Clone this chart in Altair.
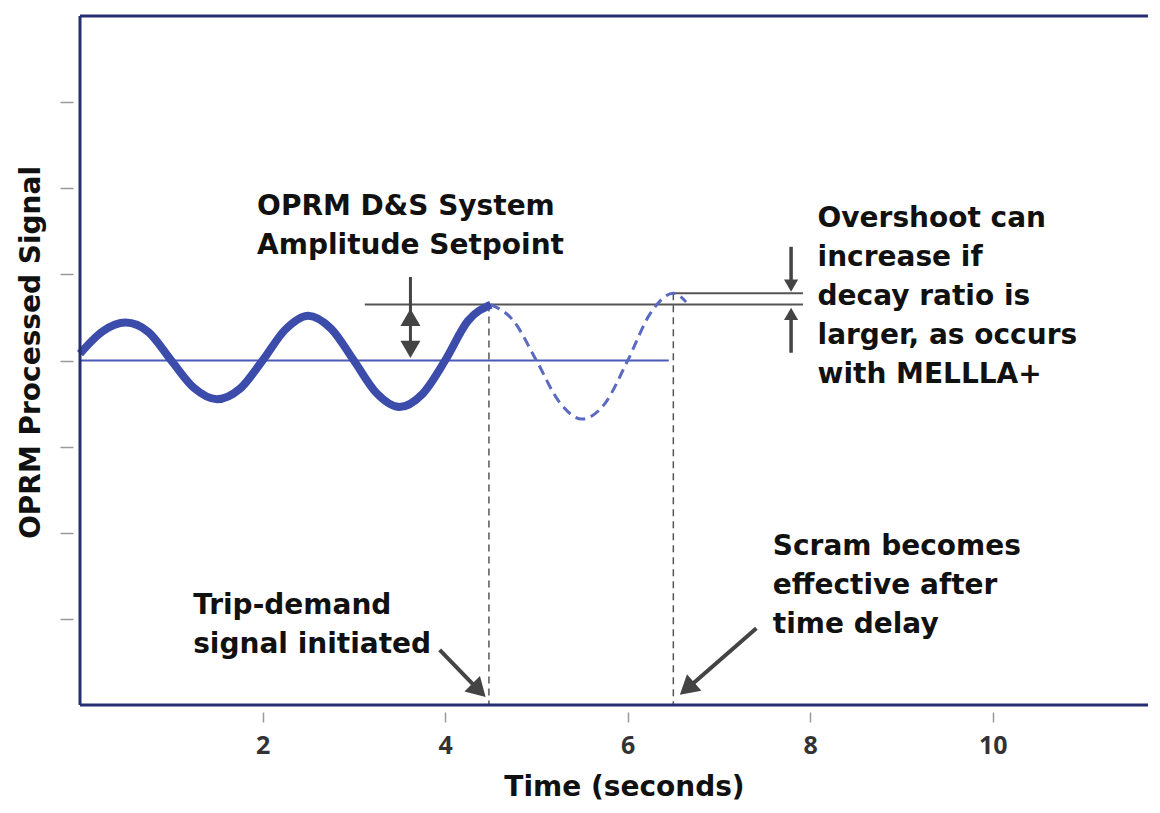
import altair as alt
import pandas as pd

# ---- data (x in seconds, y in signal units; 1 unit = 1 y-tick) ----
t_solid = [0.0, 0.25, 0.5, 0.75, 1.0, 1.25, 1.5, 1.75, 2.0, 2.25, 2.5, 2.75, 3.0, 3.25, 3.5, 3.75, 4.0, 4.25, 4.5]
v_solid = [0.08, 0.34, 0.44, 0.33, 0.0, -0.32, -0.45, -0.33, 0.0, 0.36, 0.52, 0.37, 0.0, -0.38, -0.54, -0.39, 0.0, 0.46, 0.65]
t_dash = [4.5, 4.75, 5.0, 5.25, 5.5, 5.75, 6.0, 6.25, 6.5, 6.64]
v_dash = [0.65, 0.46, 0.0, -0.48, -0.68, -0.50, 0.0, 0.55, 0.78, 0.68]

x_ticks = [2, 4, 6, 8, 10]
y_ticks = [-3, -2, -1, 0, 1, 2, 3]
x_max = 11.7
y_min, y_max = -4, 4

baseline_end = 6.45
trip_time, scram_time = 4.48, 6.5
setpoint, overshoot = 0.65, 0.78
setpoint_x = [3.12, 7.92]
overshoot_x = [6.48, 7.92]

# arrow stems: x, y, x2, y2, width
stem_x = [3.62, 7.79, 7.79, 3.94, 7.41]
stem_y = [0.97, 1.32, 0.09, -3.36, -3.11]
stem_x2 = [3.62, 7.79, 7.79, 4.37, 6.65]
stem_y2 = [0.13, 0.87, 0.54, -3.83, -3.81]
stem_w = [3, 3.5, 3.5, 4, 4]
# arrow heads: x, y, angle, size
head_x = [3.62, 3.62, 7.79, 7.79, 4.37, 6.65]
head_y = [0.50, 0.13, 0.87, 0.54, -3.83, -3.81]
head_ang = [0, 180, 180, 0, 135, 229]
head_size = [400, 400, 200, 200, 480, 480]

# annotations
note_x = [1.94, 8.08, 1.24, 7.59]
note_y = [1.69, 1.554, -2.94, -2.26]
note_text = [
    "OPRM D&S System\nAmplitude Setpoint",
    "Overshoot can\nincrease if\ndecay ratio is\nlarger, as occurs\nwith MELLLA+",
    "Trip-demand\nsignal initiated",
    "Scram becomes\neffective after\ntime delay",
]

FONT = "DejaVu Sans"
FS = 28
INK = "#3b4cab"
GREY = "#444444"
FRAME = "#262f72"

solid = pd.DataFrame({"t": t_solid, "v": v_solid})
dashed = pd.DataFrame({"t": t_dash, "v": v_dash})
frame = pd.DataFrame({"x": [0, 0, 0], "x2": [0, x_max, x_max],
                      "y": [y_min, y_max, y_min], "y2": [y_max, y_max, y_min]})
base = pd.DataFrame({"x": [0], "x2": [baseline_end], "y": [0], "y2": [0]})
vlines = pd.DataFrame({"x": [trip_time, scram_time], "x2": [trip_time, scram_time],
                       "y": [setpoint, overshoot], "y2": [y_min, y_min]})
hlines = pd.DataFrame({"x": [setpoint_x[0], overshoot_x[0]], "x2": [setpoint_x[1], overshoot_x[1]],
                       "y": [setpoint, overshoot], "y2": [setpoint, overshoot]})
stems = pd.DataFrame({"x": stem_x, "y": stem_y, "x2": stem_x2, "y2": stem_y2, "w": stem_w})
heads = pd.DataFrame({"x": head_x, "y": head_y, "ang": head_ang, "s": head_size})
notes = pd.DataFrame({"x": note_x, "y": note_y, "label": note_text})

xs = alt.Scale(domain=[0, x_max], nice=False, zero=False)
ys = alt.Scale(domain=[y_min, y_max], nice=False, zero=False)

xaxis = alt.Axis(values=x_ticks, format="d", domain=False, grid=False,
                 tickSize=10, tickColor="#9a9a9a", tickWidth=1.5, offset=7,
                 labelFont="Open Sans", labelFontWeight="bold", labelFontSize=25,
                 labelColor="#333333", labelPadding=11,
                 title="Time (seconds)", titleFont=FONT, titleFontSize=FS,
                 titleFontWeight="bold", titleColor="#111111", titlePadding=15,
                 titleX=544)
yaxis = alt.Axis(values=y_ticks, domain=False, grid=False, labels=False,
                 tickSize=13, tickColor="#9a9a9a", tickWidth=1.5, offset=7,
                 title="OPRM Processed Signal", titleFont=FONT, titleFontSize=FS,
                 titleFontWeight="bold", titleColor="#111111", titlePadding=14,
                 titleY=336)


def X(f):
    return alt.X(f, type="quantitative", scale=xs, axis=xaxis)


def Y(f):
    return alt.Y(f, type="quantitative", scale=ys, axis=yaxis)


def rules(df, **kw):
    return alt.Chart(df).mark_rule(**kw).encode(x=X("x"), x2="x2", y=Y("y"), y2="y2")


frame_l = rules(frame, color=FRAME, strokeWidth=3)
base_l = rules(base, color="#4a5ab8", strokeWidth=2)
vline_l = rules(vlines, color="#555555", strokeWidth=1.5, strokeDash=[7, 5])
hline_l = rules(hlines, color="#555555", strokeWidth=2)

dash_l = alt.Chart(dashed).mark_line(color="#5a6ac2", strokeWidth=3, strokeDash=[10, 6],
                                     interpolate="monotone").encode(x=X("t"), y=Y("v"))
solid_l = alt.Chart(solid).mark_line(color=INK, strokeWidth=8, strokeCap="butt",
                                     interpolate="monotone").encode(x=X("t"), y=Y("v"))

stem_l = alt.Chart(stems).mark_rule(color=GREY).encode(
    x=X("x"), x2="x2", y=Y("y"), y2="y2", strokeWidth=alt.StrokeWidth("w:Q", scale=None))
head_l = alt.Chart(heads).mark_point(shape="triangle-up", filled=True, color=GREY, opacity=1).encode(
    x=X("x"), y=Y("y"), angle=alt.Angle("ang:Q", scale=None), size=alt.Size("s:Q", scale=None))

text_l = alt.Chart(notes).mark_text(font=FONT, fontSize=FS, fontWeight="bold", color="#111111",
                                    align="left", baseline="alphabetic", lineBreak="\n",
                                    lineHeight=39).encode(x=X("x"), y=Y("y"), text="label:N")

chart = alt.layer(base_l, vline_l, hline_l, dash_l, solid_l, stem_l, head_l, text_l, frame_l).properties(
    width=1068, height=689,
    autosize=alt.AutoSizeParams(type="none"),
    padding={"left": 72, "top": 8, "right": 0, "bottom": 100},
).configure_view(stroke=None)

chart.save("out.html", embed_options={"renderer": "svg", "actions": False})
